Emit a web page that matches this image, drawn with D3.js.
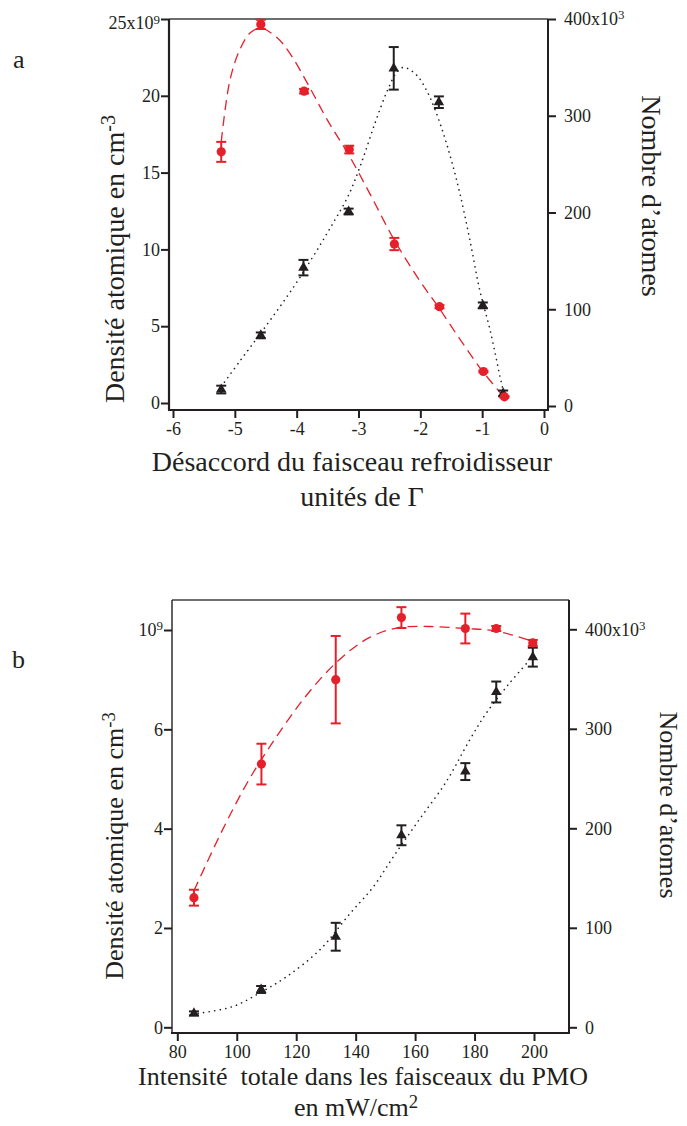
<!DOCTYPE html>
<html>
<head>
<meta charset="utf-8">
<script src="https://cdn.jsdelivr.net/npm/d3@7"></script>
<style>
  body { margin: 0; background: #fff; }
  svg { font-family: "Liberation Serif", "Times New Roman", serif; }
</style>
</head>
<body>
<div class="canvas"></div>
<script>
// ---- panel a : detuning of the cooling beam (units of Gamma)
const detDensX = [-5.22, -4.58, -3.88, -3.15, -2.42, -1.69, -0.98, -0.64];
const detDens = [16.35, 24.65, 20.3, 16.5, 10.35, 6.27, 2.05, 0.4];
const detDensErr = [0.65, 0.3, 0.15, 0.25, 0.4, 0.1, 0.05, 0.05];
const detAtomsX = [-5.22, -4.58, -3.89, -3.16, -2.43, -1.7, -0.99, -0.66];
const detAtoms = [17, 73, 143, 201, 349, 314, 104, 13];
const detAtomsErr = [4, 3, 8, 3, 22, 6, 3, 3];
// fitted curves
const detDensFitX = [-5.22, -5.08, -4.92, -4.75, -4.58, -4.32, -4.1, -3.81, -3.5, -3.15, -2.8, -2.42, -2.0, -1.7, -1.35, -1.0, -0.65];
const detDensFit = [17.0, 21.0, 23.0, 24.1, 24.4, 23.8, 22.7, 20.7, 18.4, 16.1, 13.5, 10.6, 7.9, 6.2, 4.1, 2.1, 0.4];
const detAtomsFitX = [-5.22, -4.9, -4.55, -4.06, -3.73, -3.43, -3.16, -2.95, -2.73, -2.54, -2.38, -2.27, -2.06, -1.89, -1.76, -1.57, -1.38, -1.2, -1.04, -0.87, -0.71, -0.66];
const detAtomsFit = [20, 48, 78, 122, 155, 187, 218, 252, 293, 325, 345, 350, 342, 325, 306, 270, 225, 172, 120, 78, 30, 16];
const detXTicks = [-6, -5, -4, -3, -2, -1, 0];
const detLeftTicks = [0, 5, 10, 15, 20, 25];
const detRightTicks = [0, 100, 200, 300, 400];

// ---- panel b : total intensity in the MOT beams (mW/cm2)
const intDensX = [85.6, 108.3, 133.3, 155.4, 176.9, 187.3, 199.6];
const intDens = [2.61, 5.3, 7.0, 8.25, 8.03, 8.03, 7.74];
const intDensErr = [0.16, 0.41, 0.88, 0.21, 0.3, 0.05, 0.06];
const intAtomsX = [85.6, 108.2, 133.3, 155.4, 176.9, 187.3, 199.6];
const intAtoms = [14, 38, 91, 193, 257, 337, 372];
const intAtomsErr = [2, 3.5, 14, 10, 8.5, 10.5, 9.5];
const intDensFitX = [85.6, 95, 103.3, 110, 116.8, 123, 130.2, 138, 144.7, 153.7, 165, 176.9, 187.3, 199.6];
const intDensFit = [2.75, 3.95, 4.9, 5.55, 6.15, 6.65, 7.15, 7.58, 7.85, 8.04, 8.07, 8.03, 7.98, 7.77];
const intAtomsFitX = [87, 98.8, 108, 116.8, 128, 138, 145.9, 152.6, 160.5, 170.5, 178.4, 184, 191.8, 198.5];
const intAtomsFit = [14, 21, 35, 51, 78, 114, 141, 171, 205, 247, 289, 316, 346, 369];
const intXTicks = [80, 100, 120, 140, 160, 180, 200];
const intLeftTicks = [0, 2, 4, 6, 8];
const intRightTicks = [0, 100, 200, 300, 400];

const RED = '#e5202a';
const INK = '#231f20';

const svg = d3.select('.canvas')
  .append('svg')
  .attr('width', 687)
  .attr('height', 1126);

// superscript helper: base text + raised small text
const sup = (sel, base, exp) => {
  sel.text(null);
  sel.append('tspan').text(base);
  sel.append('tspan').attr('dy', '-0.45em').attr('font-size', '0.72em').text(exp);
};

const drawPanel = (p) => {
  const g = svg.append('g');
  const x = d3.scaleLinear().domain(p.xDomain).range(p.xRange);
  const yL = d3.scaleLinear().domain(p.yLDomain).range(p.yLRange);
  const yR = d3.scaleLinear().domain(p.yRDomain).range(p.yRRange);
  const f = p.frame;

  // frame
  g.append('line').attr('x1', f.l).attr('x2', f.r).attr('y1', f.t).attr('y2', f.t)
    .attr('stroke', p.topColor).attr('stroke-width', p.topWidth);
  g.append('line').attr('x1', f.l).attr('x2', f.l).attr('y1', f.t).attr('y2', f.b)
    .attr('stroke', INK).attr('stroke-width', p.leftWidth);
  g.append('line').attr('x1', f.r).attr('x2', f.r).attr('y1', f.t).attr('y2', f.b)
    .attr('stroke', INK).attr('stroke-width', 2);
  g.append('line').attr('x1', f.l - 1).attr('x2', f.r + 1).attr('y1', f.b).attr('y2', f.b)
    .attr('stroke', INK).attr('stroke-width', 2.2);

  // axes
  const xAxis = d3.axisBottom(x).tickValues(p.xTicks).tickSize(8).tickPadding(4)
    .tickFormat(d => String(d));
  const lAxis = d3.axisLeft(yL).tickValues(p.leftTicks).tickSize(8).tickPadding(1)
    .tickFormat(d => String(d));
  const rAxis = d3.axisRight(yR).tickValues(p.rightTicks).tickSize(8).tickPadding(8)
    .tickFormat(d => String(d));

  const xg = g.append('g').attr('transform', `translate(0,${f.b})`).call(xAxis);
  const lg = g.append('g').attr('transform', `translate(${f.l},0)`).call(lAxis);
  const rg = g.append('g').attr('transform', `translate(${f.r},0)`).call(rAxis);

  [xg, lg, rg].forEach(a => {
    a.select('.domain').remove();
    a.selectAll('line').attr('stroke', INK).attr('stroke-width', 2);
    a.selectAll('text').attr('fill', INK).attr('font-size', 18)
      .attr('font-family', '"Liberation Serif", "Times New Roman", serif');
  });

  lg.selectAll('text').filter(d => d === p.leftTopTick)
    .each(function() { sup(d3.select(this), p.leftTopLabel[0], p.leftTopLabel[1]); })
    .attr('dy', p.leftTopDy);
  rg.selectAll('text').filter(d => d === 400)
    .each(function() { sup(d3.select(this), '400x10', '3'); });

  // fitted curves
  const line = (xs, ys, yScale) => d3.line()
    .curve(d3.curveCatmullRom.alpha(0.5))
    .x((d, i) => x(xs[i]))
    .y((d, i) => yScale(ys[i]))(ys);

  g.append('path')
    .attr('d', line(p.densFitX, p.densFit, yL))
    .attr('fill', 'none').attr('stroke', RED).attr('stroke-width', 1.3)
    .attr('stroke-dasharray', '10,6');
  g.append('path')
    .attr('d', line(p.atomsFitX, p.atomsFit, yR))
    .attr('fill', 'none').attr('stroke', INK).attr('stroke-width', 1.6)
    .attr('stroke-linecap', 'round')
    .attr('stroke-dasharray', '0.1,5.5');

  // error bars
  const errBars = (xs, ys, es, yScale, color, w) => {
    const eg = g.append('g').attr('stroke', color).attr('stroke-width', w);
    ys.forEach((v, i) => {
      const cx = x(xs[i]);
      const y0 = yScale(v - es[i]);
      const y1 = yScale(v + es[i]);
      eg.append('line').attr('x1', cx).attr('x2', cx).attr('y1', y0).attr('y2', y1);
      eg.append('line').attr('x1', cx - 5).attr('x2', cx + 5).attr('y1', y0).attr('y2', y0);
      eg.append('line').attr('x1', cx - 5).attr('x2', cx + 5).attr('y1', y1).attr('y2', y1);
    });
  };
  errBars(p.atomsX, p.atoms, p.atomsErr, yR, INK, 2);
  errBars(p.densX, p.dens, p.densErr, yL, RED, 2);

  // markers
  g.append('g').selectAll('path')
    .data(p.atoms)
    .enter()
    .append('path')
      .attr('d', d3.symbol(d3.symbolTriangle).size(48))
      .attr('transform', (d, i) => `translate(${x(p.atomsX[i])},${yR(d)})`)
      .attr('fill', INK);
  g.append('g').selectAll('circle')
    .data(p.dens)
    .enter()
    .append('circle')
      .attr('r', 4.6)
      .attr('cx', (d, i) => x(p.densX[i]))
      .attr('cy', d => yL(d))
      .attr('fill', RED);

  // texts
  g.append('text').attr('x', p.letter[1]).attr('y', p.letter[2])
    .attr('font-size', 26).attr('fill', INK).text(p.letter[0]);

  const lt = g.append('text')
    .attr('transform', `translate(${p.leftTitle[0]},${p.leftTitle[1]}) rotate(-90)`)
    .attr('text-anchor', 'middle').attr('font-size', p.titleSize).attr('fill', INK);
  sup(lt, 'Densité atomique en cm', '-3');

  g.append('text')
    .attr('transform', `translate(${p.rightTitle[0]},${p.rightTitle[1]}) rotate(90)`)
    .attr('text-anchor', 'middle').attr('font-size', p.titleSize).attr('fill', INK)
    .text('Nombre d\u2019atomes');

  g.append('text').attr('x', p.xTitle1[1]).attr('y', p.xTitle1[2])
    .attr('text-anchor', 'middle').attr('font-size', p.titleSize).attr('fill', INK)
    .style('white-space', 'pre')
    .text(p.xTitle1[0]);
  const x2 = g.append('text').attr('x', p.xTitle2[2]).attr('y', p.xTitle2[3])
    .attr('text-anchor', 'middle').attr('font-size', p.titleSize).attr('fill', INK);
  if (p.xTitle2[1]) sup(x2, p.xTitle2[0], p.xTitle2[1]);
  else x2.text(p.xTitle2[0]);
};

drawPanel({
  xDomain: [-6, 0], xRange: [173, 544],
  yLDomain: [0, 25], yLRange: [403, 19],
  yRDomain: [0, 400], yRRange: [406, 19],
  frame: { l: 169, r: 548, t: 19, b: 410 },
  topColor: '#6d6e70', topWidth: 2.2, leftWidth: 2.2,
  xTicks: detXTicks, leftTicks: detLeftTicks, rightTicks: detRightTicks,
  leftTopTick: 25, leftTopLabel: ['25x10', '9'], leftTopDy: '0.55em',
  densX: detDensX, dens: detDens, densErr: detDensErr,
  atomsX: detAtomsX, atoms: detAtoms, atomsErr: detAtomsErr,
  densFitX: detDensFitX, densFit: detDensFit,
  atomsFitX: detAtomsFitX, atomsFit: detAtomsFit,
  letter: ['a', 13, 68],
  titleSize: 28,
  leftTitle: [124, 259],
  rightTitle: [642, 196],
  xTitle1: ['Désaccord du faisceau refroidisseur', 352, 471],
  xTitle2: ['unités de Γ', null, 362, 506]
});

drawPanel({
  xDomain: [80, 200], xRange: [177.3, 534],
  yLDomain: [0, 8], yLRange: [1027.3, 630],
  yRDomain: [0, 400], yRRange: [1027.3, 629.3],
  frame: { l: 172, r: 569, t: 600, b: 1033 },
  topColor: '#414042', topWidth: 1.3, leftWidth: 1.4,
  xTicks: intXTicks, leftTicks: intLeftTicks, rightTicks: intRightTicks,
  leftTopTick: 8, leftTopLabel: ['10', '9'], leftTopDy: '0.32em',
  densX: intDensX, dens: intDens, densErr: intDensErr,
  atomsX: intAtomsX, atoms: intAtoms, atomsErr: intAtomsErr,
  densFitX: intDensFitX, densFit: intDensFit,
  atomsFitX: intAtomsFitX, atomsFit: intAtomsFit,
  letter: ['b', 12, 668],
  titleSize: 26,
  leftTitle: [123, 846],
  rightTitle: [660, 805],
  xTitle1: ['Intensité  totale dans les faisceaux du PMO', 363, 1085],
  xTitle2: ['en mW/cm', '2', 356, 1116]
});
</script>
</body>
</html>
